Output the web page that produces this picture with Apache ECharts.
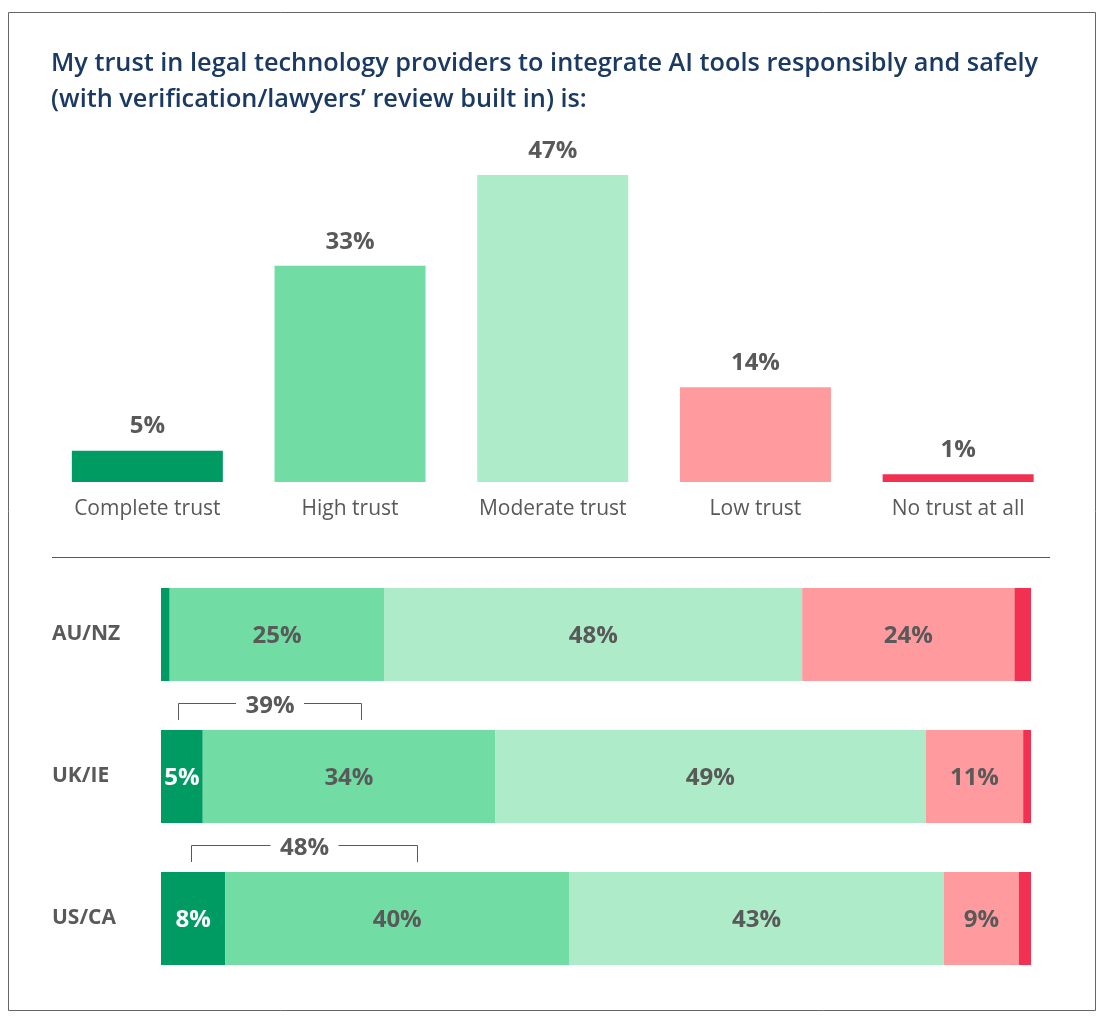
<!DOCTYPE html>
<html lang="en">
<head>
    <meta charset="UTF-8">
    <title>Trust in legal technology providers</title>
    <script src="https://cdn.jsdelivr.net/npm/echarts@6/dist/echarts.min.js"></script>
    <style>
        html, body { margin: 0; padding: 0; background: #fff; }
        #chart { width: 1106px; height: 1022px; }
    </style>
</head>
<body>
    <div id="chart"></div>
    <script>
        // overall answers (top chart)
        const trustLevels = ['Complete trust', 'High trust', 'Moderate trust', 'Low trust', 'No trust at all'];
        const overallValues = [4.8, 33.1, 47, 14.5, 1.2];
        const overallLabels = ['5%', '33%', '47%', '14%', '1%'];
        const trustColors = ['#009b62', '#71dca3', '#aeebc8', '#ff9b9e', '#f23152'];

        // by region (bottom chart)
        const regions = ['AU/NZ', 'UK/IE', 'US/CA'];
        const completeValues = [1.0, 4.8, 7.4];
        const highValues = [24.7, 33.6, 39.5];
        const moderateValues = [48.0, 49.5, 43.1];
        const lowValues = [24.4, 11.2, 8.6];
        const noneValues = [1.9, 0.9, 1.4];
        const completeLabels = ['', '5%', '8%'];
        const highLabels = ['25%', '34%', '40%'];
        const moderateLabels = ['48%', '49%', '43%'];
        const lowLabels = ['24%', '11%', '9%'];

        // brackets: [from, to, row index, label]
        const brackets = [
            [2.0, 23.0, 1, '39%'],
            [3.5, 29.4, 2, '48%']
        ];

        const grey = '#595959';
        const font = '"Open Sans", "Noto Sans", sans-serif';
        const rowBarHeight = 93;

        function stackSeries(name, values, labels, color, labelColor) {
            return {
                name: name,
                type: 'bar',
                stack: 'region',
                xAxisIndex: 1,
                yAxisIndex: 1,
                barWidth: rowBarHeight,
                data: values,
                itemStyle: { color: color },
                label: {
                    show: !!labels,
                    position: 'inside',
                    offset: [0, 2],
                    fontFamily: font,
                    fontSize: 24,
                    fontWeight: 'bold',
                    color: labelColor || grey,
                    formatter: p => labels ? labels[p.dataIndex] : ''
                },
                silent: true
            };
        }

        const chart = echarts.init(document.getElementById('chart'));
        chart.setOption({
            animation: false,
            textStyle: { fontFamily: font },
            title: {
                text: 'My trust in legal technology providers to integrate AI tools responsibly and safely\n(with verification/lawyers\u2019 review built in) is:',
                left: 46,
                top: 41,
                textStyle: {
                    fontFamily: font,
                    fontSize: 25.3,
                    fontWeight: 600,
                    lineHeight: 36,
                    color: '#1b3a63'
                }
            },
            graphic: [
                {
                    type: 'rect',
                    shape: { x: 8.5, y: 12.5, width: 1087, height: 998 },
                    style: { fill: null, stroke: '#666', lineWidth: 1 },
                    silent: true
                },
                {
                    type: 'line',
                    shape: { x1: 52, y1: 557.5, x2: 1050, y2: 557.5 },
                    style: { stroke: grey, lineWidth: 1 },
                    silent: true
                }
            ],
            grid: [
                { left: 46, right: 46.5, top: 155.5, bottom: 540 },
                { left: 161, right: 75, top: 563.5, bottom: 32.5 }
            ],
            xAxis: [
                {
                    type: 'category',
                    gridIndex: 0,
                    data: trustLevels,
                    axisLine: { show: false },
                    axisTick: { show: false },
                    axisLabel: {
                        margin: 17,
                        fontFamily: font,
                        fontSize: 21,
                        color: grey
                    }
                },
                {
                    type: 'value',
                    gridIndex: 1,
                    min: 0,
                    max: 100,
                    show: false
                }
            ],
            yAxis: [
                {
                    type: 'value',
                    gridIndex: 0,
                    min: 0,
                    max: 50,
                    show: false
                },
                {
                    type: 'category',
                    gridIndex: 1,
                    data: regions,
                    inverse: true,
                    axisLine: { show: false },
                    axisTick: { show: false },
                    axisLabel: {
                        align: 'left',
                        margin: 109,
                        padding: [5, 0, 0, 0],
                        fontFamily: font,
                        fontSize: 21,
                        fontWeight: 'bold',
                        color: grey
                    }
                }
            ],
            series: [
                {
                    type: 'bar',
                    xAxisIndex: 0,
                    yAxisIndex: 0,
                    barWidth: 151,
                    data: overallValues.map((v, i) => ({ value: v, itemStyle: { color: trustColors[i] } })),
                    label: {
                        show: true,
                        position: 'top',
                        distance: 12,
                        fontFamily: font,
                        fontSize: 24,
                        fontWeight: 'bold',
                        color: grey,
                        formatter: p => overallLabels[p.dataIndex]
                    },
                    silent: true
                },
                stackSeries('Complete trust', completeValues, completeLabels, trustColors[0], '#fff'),
                stackSeries('High trust', highValues, highLabels, trustColors[1]),
                stackSeries('Moderate trust', moderateValues, moderateLabels, trustColors[2]),
                stackSeries('Low trust', lowValues, lowLabels, trustColors[3]),
                stackSeries('No trust at all', noneValues, null, trustColors[4]),
                {
                    type: 'custom',
                    xAxisIndex: 1,
                    yAxisIndex: 1,
                    data: brackets,
                    silent: true,
                    renderItem: function (params, api) {
                        const row = api.value(2);
                        const barTop = api.coord([0, row])[1] - rowBarHeight / 2;
                        const x1 = Math.round(api.coord([api.value(0), row])[0]) + 0.5;
                        const x2 = Math.round(api.coord([api.value(1), row])[0]) + 0.5;
                        const yTop = Math.round(barTop - 27) + 0.5;
                        const yTick = barTop - 10;
                        const mid = (x1 + x2) / 2;
                        const gap = 34;
                        const lineStyle = { stroke: grey, lineWidth: 1, fill: null };
                        return {
                            type: 'group',
                            children: [
                                { type: 'polyline', shape: { points: [[x1, yTick], [x1, yTop], [mid - gap, yTop]] }, style: lineStyle },
                                { type: 'polyline', shape: { points: [[mid + gap, yTop], [x2, yTop], [x2, yTick]] }, style: lineStyle },
                                {
                                    type: 'text',
                                    x: mid,
                                    y: yTop + 3,
                                    style: {
                                        text: brackets[params.dataIndex][3],
                                        fontFamily: font,
                                        fontSize: 24,
                                        fontWeight: 'bold',
                                        fill: grey,
                                        align: 'center',
                                        verticalAlign: 'middle'
                                    }
                                }
                            ]
                        };
                    }
                }
            ]
        });
    </script>
</body>
</html>
